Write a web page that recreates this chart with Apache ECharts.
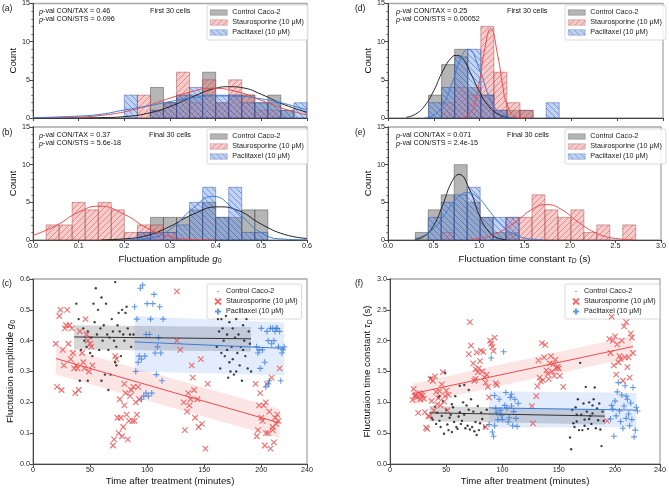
<!DOCTYPE html>
<html>
<head>
<meta charset="utf-8">
<script src="https://cdn.jsdelivr.net/npm/echarts@6/dist/echarts.min.js"></script>
<style>
  html, body { margin: 0; padding: 0; background: #fff; }
  #main { width: 669px; height: 489px; }
</style>
</head>
<body>
<div id="main"></div>
<script>
// ---------- histogram bins ----------
const ampBinStart = 0, ampBinWidth = 0.6 / 21;
const tauBinStart = 0.3, tauBinWidth = 0.1425;

// (a) first 30 cells, amplitude g0 (counts per bin, bin 0 starts at 0.0)
const ampFirstCon = [0,0,0,0,0,0,0, 0,0,4,2,3,3,6,2,3,3,2,3,1,0];
const ampFirstSts = [0,0,0,0,0,0,0, 0,3,1,2,6,2,5,2,5,3,1,1,0,0];
const ampFirstTax = [0,0,0,0,0,0,0, 3,0,1,2,3,4,3,3,3,2,2,2,1,2];
// (b) final 30 cells
const ampFinalCon = [0,0,0,0,0,0,0,0,1,3,3,3,4,5,3,3,4,4,0,0,0];
const ampFinalSts = [0,2,2,5,4,5,4,1,2,2,1,0,0,0,0,0,0,0,0,0,0];
const ampFinalTax = [0,0,0,0,0,0,0,0,1,1,1,2,5,7,3,7,1,1,0,0,0];
// (d) first 30 cells, tau_D (bin 0 starts at 0.3)
const tauFirstCon = [0,3,7,9,4,3,1,1,1,0,0,0,0,0,0,0,0,0];
const tauFirstSts = [0,0,2,4,3,12,6,2,1,0,0,0,0,0,0,0,0,0];
const tauFirstTax = [0,2,4,8,9,3,1,0,0,0,2,0,0,0,0,0,0,0];
// (e) final 30 cells
const tauFinalCon = [1,4,6,10,5,3,1,1,0,0,0,0,0,0,0,0,0,0];
const tauFinalSts = [0,0,1,0,0,0,0,3,3,6,4,3,4,1,2,0,2,0];
const tauFinalTax = [0,3,5,6,7,3,3,3,0,0,0,0,0,0,0,0,0,0];

// ---------- fitted normal curves ----------
const ampFirstConFit = [[0,0],[0.1,0.01],[0.15,0.05],[0.2,0.18],[0.25,0.6],[0.3,1.5],[0.35,2.8],[0.4,3.9],[0.43,4.1],[0.46,3.95],[0.5,3.1],[0.55,1.75],[0.6,0.75]];
const ampFirstStsFit = [[0,0.05],[0.1,0.12],[0.15,0.35],[0.2,0.8],[0.25,1.6],[0.3,2.6],[0.35,3.5],[0.39,3.9],[0.45,3.4],[0.5,2.3],[0.55,1.2],[0.6,0.4]];
const ampFirstTaxFit = [[0,0.04],[0.1,0.25],[0.15,0.5],[0.2,1.05],[0.25,1.55],[0.3,2.15],[0.35,2.65],[0.4,2.9],[0.45,2.85],[0.5,2.5],[0.55,1.9],[0.6,1.05]];
const ampFinalConFit = [[0.15,0.02],[0.2,0.15],[0.25,0.6],[0.3,1.8],[0.35,3.4],[0.405,4.4],[0.45,3.9],[0.5,2.1],[0.55,0.75],[0.6,0.2]];
const ampFinalStsFit = [[0,0.6],[0.05,1.9],[0.1,3.7],[0.145,4.5],[0.2,3.4],[0.25,1.57],[0.3,0.45],[0.35,0.08],[0.4,0]];
const ampFinalTaxFit = [[0.2,0.01],[0.25,0.2],[0.3,1.4],[0.35,4.2],[0.394,5.8],[0.44,4.1],[0.5,0.95],[0.55,0.11],[0.6,0.01]];
const tauFirstConFit = [[0.2,0.1],[0.3,0.5],[0.4,1.6],[0.5,3.6],[0.6,6.2],[0.7,8.0],[0.745,8.2],[0.8,8.0],[0.9,5.9],[1.0,3.4],[1.1,1.5],[1.2,0.5],[1.3,0.1],[1.4,0]];
const tauFirstStsFit = [[0.8,0.03],[0.9,0.65],[0.95,2.1],[1.0,4.9],[1.05,8.7],[1.12,11.7],[1.2,8.0],[1.25,4.3],[1.3,1.7],[1.4,0.1],[1.5,0]];
const tauFirstTaxFit = [[0.4,0.06],[0.5,0.4],[0.6,1.7],[0.7,4.6],[0.8,8.0],[0.873,9.0],[1.0,6.3],[1.1,2.9],[1.2,0.85],[1.3,0.15],[1.4,0]];
const tauFinalConFit = [[0.3,0.1],[0.4,0.5],[0.5,1.9],[0.6,4.6],[0.7,7.7],[0.78,8.7],[0.9,6.6],[1.0,3.4],[1.1,1.2],[1.2,0.28],[1.3,0.05]];
const tauFinalStsFit = [[0.9,0.09],[1.0,0.2],[1.2,0.9],[1.4,2.4],[1.6,4.2],[1.745,4.7],[1.9,4.1],[2.1,2.3],[2.3,0.85],[2.5,0.2],[2.7,0.03]];
const tauFinalTaxFit = [[0.3,0.2],[0.4,0.64],[0.5,1.5],[0.6,3.0],[0.7,4.7],[0.8,6.0],[0.87,6.3],[1.0,5.5],[1.1,4.1],[1.2,2.6],[1.3,1.45],[1.4,0.67],[1.5,0.26],[1.6,0.09],[1.7,0.03]];

// ---------- scatter: amplitude g0 vs time (minutes) ----------
const conAmp = [[38,0.52],[40,0.47],[42,0.37],[44,0.44],[45,0.40],[47,0.38],[48,0.43],[50,0.36],[51,0.41],[53,0.52],[54,0.46],[55,0.57],[56,0.42],[57,0.50],[58,0.37],[59,0.44],[60,0.54],[61,0.40],[62,0.45],[63,0.29],[64,0.52],[65,0.42],[66,0.37],[67,0.41],[68,0.29],[69,0.47],[70,0.43],[71,0.40],[72,0.59],[72,0.33],[73,0.38],[74,0.45],[75,0.49],[76,0.43],[77,0.35],[78,0.50],[79,0.42],[80,0.40],[81,0.49],[82,0.51],[83,0.44],[85,0.42],[86,0.38],[88,0.42],[41,0.27],[48,0.27],[60,0.27],[66,0.24],[73,0.32],[52,0.35],
  [161,0.38],[162,0.47],[163,0.43],[164,0.31],[165,0.36],[166,0.44],[167,0.40],[168,0.35],[169,0.48],[170,0.42],[171,0.28],[172,0.46],[172,0.33],[173,0.30],[174,0.38],[175,0.44],[176,0.29],[177,0.41],[178,0.47],[179,0.36],[180,0.42],[181,0.32],[182,0.38],[183,0.27],[184,0.45],[185,0.40],[186,0.35],[187,0.47],[188,0.31],[189,0.43],[190,0.39],[191,0.30],[165,0.47],[178,0.30],[170,0.37],[184,0.37],[175,0.34]];
const stsAmp = [[20,0.39],[21,0.25],[23,0.48],[24,0.50],[25,0.24],[26,0.37],[27,0.32],[28,0.44],[29,0.45],[30,0.50],[31,0.39],[32,0.45],[33,0.34],[34,0.44],[35,0.36],[36,0.31],[37,0.23],[38,0.32],[39,0.31],[40,0.24],[41,0.43],[43,0.36],[44,0.33],[45,0.31],[46,0.47],[47,0.42],[48,0.40],[49,0.30],[50,0.39],[51,0.38],[52,0.32],
  [70,0.06],[71,0.08],[72,0.35],[73,0.34],[74,0.15],[75,0.10],[76,0.21],[77,0.15],[78,0.09],[79,0.12],[80,0.19],[80,0.26],[81,0.23],[82,0.16],[83,0.08],[84,0.14],[85,0.22],[86,0.24],[87,0.14],[88,0.25],[89,0.14],[90,0.20],[91,0.16],[92,0.25],[93,0.21],[126,0.56],[126,0.40],[129,0.37],
  [132,0.20],[133,0.11],[135,0.17],[136,0.23],[137,0.19],[138,0.21],[139,0.32],[140,0.28],[141,0.24],[142,0.15],[144,0.21],[145,0.12],[147,0.34],[148,0.13],[151,0.05],[153,0.26],
  [195,0.26],[196,0.09],[197,0.11],[198,0.19],[199,0.23],[200,0.15],[201,0.14],[202,0.19],[203,0.06],[204,0.20],[205,0.26],[206,0.10],[207,0.17],[208,0.05],[209,0.28],[210,0.12],[211,0.07],[212,0.15],[213,0.13],[214,0.16],[215,0.14],[216,0.31],[204,0.10],[210,0.11]];
const taxAmp = [[89,0.51],[90,0.30],[91,0.47],[92,0.33],[93,0.35],[94,0.57],[95,0.34],[96,0.58],[97,0.22],[98,0.35],[99,0.42],[100,0.52],[102,0.42],[103,0.47],[104,0.23],[105,0.52],[106,0.55],[107,0.36],[108,0.29],[109,0.38],[110,0.41],[111,0.51],[112,0.36],[113,0.27],[114,0.47],[95,0.21],[99,0.23],[101,0.22],
  [196,0.38],[197,0.36],[199,0.31],[200,0.44],[201,0.37],[203,0.33],[204,0.25],[205,0.43],[206,0.40],[207,0.27],[208,0.44],[209,0.39],[210,0.44],[211,0.40],[212,0.43],[213,0.44],[214,0.44],[215,0.38],[216,0.43],[217,0.27],[218,0.36],[219,0.37],[220,0.38],[206,0.26],[198,0.37]];

// regression lines and confidence bands [t, low, high]
const conAmpFit = [[36,0.412],[191,0.406]];
const conAmpBand = [[36,0.371,0.450],[191,0.365,0.444]];
const taxAmpFit = [[89,0.396],[220,0.375]];
const taxAmpBand = [[89,0.300,0.479],[220,0.288,0.459]];
const stsAmpFit = [[20,0.342],[216,0.133]];
const stsAmpBand = [[20,0.290,0.384],[216,0.084,0.178]];

// ---------- scatter: tau_D vs time ----------
const conTau = [[36,1.40],[37,0.75],[38,0.72],[40,0.93],[41,0.65],[42,0.83],[43,1.08],[44,0.70],[45,0.60],[46,0.78],[47,1.02],[48,0.49],[49,1.48],[50,0.88],[51,0.64],[52,0.55],[53,0.75],[54,0.80],[55,0.52],[56,0.92],[57,0.68],[58,1.10],[59,0.60],[60,0.57],[61,0.77],[62,0.84],[63,0.65],[64,0.70],[65,1.00],[66,0.80],[67,0.58],[68,0.95],[69,0.62],[70,0.88],[71,0.56],[72,1.05],[73,0.60],[74,0.85],[75,0.53],[76,0.68],[77,0.47],[78,0.94],[79,0.55],[80,0.66],[81,0.83],[82,0.73],[84,0.60],[86,0.88],[62,1.27],[70,1.20],[55,0.97],[66,1.28],[44,1.10],
  [160,0.43],[161,0.24],[162,0.88],[163,0.66],[164,0.60],[165,0.92],[166,0.69],[167,1.05],[168,0.55],[169,1.64],[170,0.80],[171,0.55],[172,0.98],[173,0.72],[174,1.25],[175,0.85],[176,0.57],[177,1.00],[178,0.78],[179,0.65],[180,0.82],[181,1.05],[182,1.24],[183,0.58],[184,0.90],[185,0.71],[186,0.98],[187,0.56],[188,0.29],[189,0.85],[190,0.70],[173,0.62],[177,0.73],[166,0.80],[180,0.95]];
const stsTau = [[20,1.04],[21,1.22],[22,1.10],[23,1.12],[24,1.08],[25,0.83],[26,1.15],[27,1.05],[28,1.13],[29,1.11],[30,1.06],[31,0.84],[32,0.59],[33,0.57],[34,0.78],[35,0.77],[36,1.38],[37,1.02],[38,1.35],[39,0.87],[40,1.42],[41,1.17],[42,0.97],[43,1.07],[44,1.18],[45,0.95],[46,1.29],[47,1.49],[48,1.01],[49,1.10],[50,1.19],[51,0.87],[52,1.12],
  [70,1.78],[71,2.30],[72,1.92],[74,1.63],[75,1.35],[76,1.54],[77,1.81],[78,1.49],[79,1.55],[80,1.67],[81,1.84],[82,1.50],[83,1.82],[84,1.40],[85,1.32],[86,1.45],[87,1.25],[88,1.08],[89,2.00],[90,1.95],[91,1.90],[92,1.83],[93,2.05],[94,1.31],[95,1.28],[85,0.60],[76,1.38],
  [126,0.94],[127,0.66],[130,1.10],[131,1.26],[132,1.68],[133,1.40],[134,1.34],[135,1.96],[136,1.36],[137,1.73],[138,1.93],[139,1.52],[140,1.46],[141,1.38],[142,1.63],[143,1.75],[144,1.50],[145,1.62],[146,1.43],[147,1.69],[148,1.55],[149,1.58],[150,1.55],[151,1.43],[154,1.25],
  [193,0.70],[195,2.03],[196,1.80],[197,2.39],[198,2.00],[199,1.60],[200,2.07],[201,1.45],[202,1.94],[203,1.65],[204,1.75],[205,1.70],[206,2.00],[207,1.35],[208,2.23],[209,1.73],[210,2.30],[211,1.57],[212,1.73],[213,1.40],[214,2.12],[215,2.05],[216,1.80]];
const taxTau = [[90,1.72],[91,0.52],[92,0.45],[93,1.11],[94,0.90],[95,0.83],[96,0.72],[97,1.05],[98,0.87],[99,0.79],[100,0.72],[101,1.82],[102,0.95],[103,1.16],[104,0.91],[105,0.68],[106,0.75],[107,1.08],[108,0.94],[109,0.62],[110,0.85],[111,1.05],[112,0.74],[113,0.61],[114,0.98],[88,0.64],[93,0.62],[108,1.13],
  [196,0.73],[197,0.95],[198,0.89],[199,0.45],[200,1.02],[201,0.78],[202,1.17],[203,1.32],[204,0.86],[205,0.69],[206,1.12],[207,0.58],[208,0.94],[209,1.27],[210,0.74],[211,1.05],[212,0.81],[213,0.62],[214,0.99],[215,0.72],[216,1.24],[217,0.44],[218,0.55],[219,0.92],[220,0.86],[210,1.10]];

const conTauFit = [[35,0.83],[191,0.776]];
const conTauBand = [[35,0.695,0.939],[191,0.640,0.884]];
const taxTauFit = [[88,0.91],[219,0.874]];
const taxTauBand = [[88,0.586,1.180],[219,0.597,1.156]];
const stsTauFit = [[20,1.14],[216,1.905]];
const stsTauBand = [[20,0.96,1.30],[216,1.73,2.08]];

const NAMES = ['Control Caco-2', 'Staurosporine (10 μM)', 'Paclitaxel (10 μM)'];

// ---------- styling ----------
const FONT = 'Liberation Sans, Arial, sans-serif';
const C_BLACK = '#222', C_RED = '#ee4b4b', C_BLUE = '#3b7ddd';

function hatch(bg, line, dir) {
  const s = 6, c = document.createElement('canvas');
  c.width = c.height = s;
  const g = c.getContext('2d');
  g.fillStyle = bg; g.fillRect(0, 0, s, s);
  g.strokeStyle = line; g.lineWidth = 0.8; g.beginPath();
  if (dir > 0) {
    g.moveTo(0, s); g.lineTo(s, 0);
    g.moveTo(-1, 1); g.lineTo(1, -1);
    g.moveTo(s - 1, s + 1); g.lineTo(s + 1, s - 1);
  } else {
    g.moveTo(0, 0); g.lineTo(s, s);
    g.moveTo(s - 1, -1); g.lineTo(s + 1, 1);
    g.moveTo(-1, s - 1); g.lineTo(1, s + 1);
  }
  g.stroke();
  return { image: c, repeat: 'repeat' };
}
const FILL_CON = 'rgba(120,120,120,0.55)';
const FILL_STS = hatch('rgba(240,128,128,0.42)', 'rgba(150,60,60,0.5)', 1);
const FILL_TAX = hatch('rgba(100,149,237,0.42)', 'rgba(40,60,120,0.5)', -1);
const EDGE_CON = 'rgba(60,60,60,0.55)', EDGE_STS = 'rgba(150,60,60,0.55)', EDGE_TAX = 'rgba(40,70,150,0.55)';

const grids = [
  { left: 33, top: 3, width: 274, height: 115 },    // a
  { left: 33, top: 127, width: 274, height: 113 },  // b
  { left: 33, top: 279, width: 274, height: 185 },  // c
  { left: 388, top: 3, width: 275, height: 115 },   // d
  { left: 388, top: 127, width: 275, height: 113 }, // e
  { left: 390, top: 279, width: 273, height: 185 }  // f
].map(g => Object.assign({ show: true, borderColor: '#a8a8a8', borderWidth: 1.3, backgroundColor: 'transparent' }, g));

const tick = { fontSize: 7.2, color: '#222', fontFamily: FONT };
const nameRich = {
  t: { fontSize: 9.6, fontFamily: FONT, color: '#111' },
  i: { fontSize: 9.6, fontFamily: FONT, fontStyle: 'italic', color: '#111' },
  s: { fontSize: 7, fontFamily: FONT, fontStyle: 'italic', color: '#111', padding: [5, 0, 0, 0] },
  n: { fontSize: 7, fontFamily: FONT, color: '#111', padding: [5, 0, 0, 0] }
};

function xAxis(gi, max, interval, showLabel, name, gap) {
  return {
    type: 'value', gridIndex: gi, min: 0, max, interval,
    axisLine: { show: true, lineStyle: { color: '#444', width: 1 } },
    axisTick: { show: true, length: 3, lineStyle: { color: '#444' } },
    splitLine: { show: false },
    axisLabel: { show: showLabel, margin: 3, ...tick, formatter: v => interval < 1 ? v.toFixed(1) : String(v) },
    name: name || '', nameLocation: 'middle', nameGap: gap || 14,
    nameTextStyle: { rich: nameRich }
  };
}
function yAxis(gi, max, interval, fmt, name, gap, minor) {
  return {
    type: 'value', gridIndex: gi, min: 0, max, interval,
    axisLine: { show: true, lineStyle: { color: '#444', width: 1 } },
    axisTick: { show: true, length: 3, lineStyle: { color: '#444' } },
    minorTick: { show: !!minor, splitNumber: 5, length: 1.6, lineStyle: { color: '#666' } },
    splitLine: { show: false },
    axisLabel: { margin: 3, ...tick, formatter: fmt },
    name, nameLocation: 'middle', nameGap: gap, nameRotate: 90,
    nameTextStyle: { rich: nameRich }
  };
}

const ampName = '{t|Fluctuation amplitude }{i|g}{n|0}';
const tauName = '{t|Fluctuation time constant }{i|τ}{s|D}{t| (s)}';
const intFmt = v => String(v);
const f1 = v => v.toFixed(1);

const xAxes = [
  xAxis(0, 0.6, 0.1, false),
  xAxis(1, 0.6, 0.1, true, ampName, 13),
  xAxis(2, 240, 50, true, '{t|Time after treatment (minutes)}', 12),
  xAxis(3, 3.0, 0.5, false),
  xAxis(4, 3.0, 0.5, true, tauName, 13),
  xAxis(5, 240, 50, true, '{t|Time after treatment (minutes)}', 12)
];
const yAxes = [
  yAxis(0, 15, 5, intFmt, '{t|Count}', 14, true),
  yAxis(1, 15, 5, intFmt, '{t|Count}', 14, true),
  yAxis(2, 0.6, 0.1, f1, '{t|Fluctutaion amplitude }{i|g}{n|0}', 14),
  yAxis(3, 15, 5, intFmt, '{t|Count}', 14, true),
  yAxis(4, 15, 5, intFmt, '{t|Count}', 14, true),
  yAxis(5, 3.0, 0.5, f1, '{t|Fluctutaion time constant }{i|τ}{s|D}{t| (s)}', 16)
];

// ---------- series builders ----------
function histRows(counts, start, width) {
  const rows = [];
  counts.forEach((c, k) => { if (c > 0) rows.push([start + k * width, start + (k + 1) * width, c]); });
  return rows;
}
function histSeries(gi, name, counts, start, width, fill, edge) {
  return {
    type: 'custom', name, xAxisIndex: gi, yAxisIndex: gi,
    data: histRows(counts, start, width),
    encode: { x: [0, 1], y: 2 },
    itemStyle: { color: fill, borderColor: edge, borderWidth: 0.6 },
    renderItem: (params, api) => {
      const p0 = api.coord([api.value(0), 0]);
      const p1 = api.coord([api.value(1), api.value(2)]);
      return {
        type: 'rect',
        shape: { x: p0[0], y: p1[1], width: p1[0] - p0[0], height: p0[1] - p1[1] },
        style: { fill, stroke: edge, lineWidth: 0.8 }
      };
    },
    silent: true, z: 2
  };
}
function curve(gi, data, color) {
  return {
    type: 'line', xAxisIndex: gi, yAxisIndex: gi, data, smooth: 0.5, symbol: 'none',
    lineStyle: { color, width: 1 }, silent: true, z: 5
  };
}
function band(gi, data, color) {
  return {
    type: 'custom', xAxisIndex: gi, yAxisIndex: gi, data, encode: { x: 0, y: [1, 2] },
    renderItem: (params, api) => {
      if (params.dataIndex !== 0) return null;
      const n = data.length, up = [], lo = [];
      for (let i = 0; i < n; i++) {
        up.push(api.coord([api.value(0, i), api.value(2, i)]));
        lo.unshift(api.coord([api.value(0, i), api.value(1, i)]));
      }
      return { type: 'polygon', shape: { points: up.concat(lo) }, style: { fill: color } };
    },
    silent: true, z: 1
  };
}
function fitLine(gi, data, color) {
  return {
    type: 'line', xAxisIndex: gi, yAxisIndex: gi, data, symbol: 'none',
    lineStyle: { color, width: 1 }, silent: true, z: 6
  };
}
const X_PATH = 'path://M0,0L10,10M10,0L0,10';
const P_PATH = 'path://M5,0L5,10M0,5L10,5';
// small dot centred in a 10x10 box, used for the legend icon of the control points
const DOT_ICON = 'path://M0,0L0.01,0M10,10L10.01,10M4.2,4.2L5.8,4.2L5.8,5.8L4.2,5.8Z';
function scatter(gi, name, data, kind) {
  const s = { type: 'scatter', name: name + ' ', xAxisIndex: gi, yAxisIndex: gi, data, silent: true, z: 4 };
  if (kind === 'con') {
    s.symbol = 'circle'; s.symbolSize = 2.4; s.itemStyle = { color: '#111' };
  } else if (kind === 'sts') {
    s.symbol = X_PATH; s.symbolSize = 5.5;
    s.itemStyle = { color: 'transparent', borderColor: C_RED, borderWidth: 1.1 };
  } else {
    s.symbol = P_PATH; s.symbolSize = 6;
    s.itemStyle = { color: 'transparent', borderColor: C_BLUE, borderWidth: 1.1 };
  }
  return s;
}

const series = [];
function histPanel(gi, con, sts, tax, start, width, fits) {
  series.push(histSeries(gi, NAMES[0], con, start, width, FILL_CON, EDGE_CON));
  series.push(histSeries(gi, NAMES[1], sts, start, width, FILL_STS, EDGE_STS));
  series.push(histSeries(gi, NAMES[2], tax, start, width, FILL_TAX, EDGE_TAX));
  series.push(curve(gi, fits[0], C_BLACK), curve(gi, fits[1], C_RED), curve(gi, fits[2], C_BLUE));
}
histPanel(0, ampFirstCon, ampFirstSts, ampFirstTax, ampBinStart, ampBinWidth, [ampFirstConFit, ampFirstStsFit, ampFirstTaxFit]);
histPanel(1, ampFinalCon, ampFinalSts, ampFinalTax, ampBinStart, ampBinWidth, [ampFinalConFit, ampFinalStsFit, ampFinalTaxFit]);
histPanel(3, tauFirstCon, tauFirstSts, tauFirstTax, tauBinStart, tauBinWidth, [tauFirstConFit, tauFirstStsFit, tauFirstTaxFit]);
histPanel(4, tauFinalCon, tauFinalSts, tauFinalTax, tauBinStart, tauBinWidth, [tauFinalConFit, tauFinalStsFit, tauFinalTaxFit]);

function scatterPanel(gi, con, sts, tax, bands, fits) {
  series.push(band(gi, bands[0], 'rgba(0,0,0,0.16)'));
  series.push(band(gi, bands[1], 'rgba(240,110,110,0.18)'));
  series.push(band(gi, bands[2], 'rgba(90,140,235,0.17)'));
  series.push(scatter(gi, NAMES[0], con, 'con'));
  series.push(scatter(gi, NAMES[1], sts, 'sts'));
  series.push(scatter(gi, NAMES[2], tax, 'tax'));
  series.push(fitLine(gi, fits[0], '#333'), fitLine(gi, fits[1], C_RED), fitLine(gi, fits[2], C_BLUE));
}
scatterPanel(2, conAmp, stsAmp, taxAmp, [conAmpBand, stsAmpBand, taxAmpBand], [conAmpFit, stsAmpFit, taxAmpFit]);
scatterPanel(5, conTau, stsTau, taxTau, [conTauBand, stsTauBand, taxTauBand], [conTauFit, stsTauFit, taxTauFit]);

// ---------- legends ----------
const legendBase = {
  orient: 'vertical', formatter: n => n.trim(), selectedMode: false,
  backgroundColor: 'rgba(255,255,255,0.85)', borderColor: '#d0d0d0', borderWidth: 0.8, borderRadius: 2,
  textStyle: { fontSize: 7.2, fontFamily: FONT, color: '#222', lineHeight: 9 }
};
function histLegend(left, top) {
  return Object.assign({}, legendBase, {
    left, top, data: NAMES, icon: 'rect',
    itemWidth: 17, itemHeight: 5.5, itemGap: 1, itemTextGap: 3,
    padding: [3, 4, 3, 3], itemStyle: { borderWidth: 0.5 }
  });
}
function scatterLegend(left, top) {
  return Object.assign({}, legendBase, {
    left, top,
    data: [
      { name: NAMES[0] + ' ', icon: DOT_ICON },
      { name: NAMES[1] + ' ' },
      { name: NAMES[2] + ' ' }
    ],
    itemWidth: 6, itemHeight: 6, itemGap: 1, itemTextGap: 10,
    padding: [3, 4, 3, 7]
  });
}
const legends = [
  histLegend(207, 5), histLegend(207, 129),
  histLegend(565, 5), histLegend(565, 129),
  scatterLegend(207, 284), scatterLegend(565, 284)
];

// ---------- annotations ----------
const txt = (x, y, text, extra) => ({
  type: 'text', left: x, top: y,
  style: Object.assign({ text, fontSize: 7.2, fontFamily: FONT, fill: '#111',
    rich: { i: { fontStyle: 'italic', fontSize: 7.2, fontFamily: FONT, fill: '#111' } } }, extra || {}),
  z: 10
});
const graphic = [
  txt(2, 4, '(a)', { fontSize: 8.5 }), txt(2, 128, '(b)', { fontSize: 8.5 }), txt(2, 279, '(c)', { fontSize: 8.5 }),
  txt(355, 4, '(d)', { fontSize: 8.5 }), txt(355, 128, '(e)', { fontSize: 8.5 }), txt(355, 279, '(f)', { fontSize: 8.5 }),
  txt(39, 8, '{i|p}-val CON/TAX = 0.46'), txt(39, 16, '{i|p}-val CON/STS = 0.096'), txt(150, 8, 'First 30 cells'),
  txt(39, 132, '{i|p}-val CON/TAX = 0.37'), txt(39, 140, '{i|p}-val CON/STS = 5.6e-18'), txt(149, 132, 'Final 30 cells'),
  txt(396, 8, '{i|p}-val CON/TAX = 0.25'), txt(396, 16, '{i|p}-val CON/STS = 0.00052'), txt(507, 8, 'First 30 cells'),
  txt(396, 132, '{i|p}-val CON/TAX = 0.071'), txt(396, 140, '{i|p}-val CON/STS = 2.4e-15'), txt(507, 132, 'Final 30 cells')
];

const chart = echarts.init(document.getElementById('main'), null, { renderer: 'canvas' });
chart.setOption({
  animation: false,
  backgroundColor: '#fff',
  textStyle: { fontFamily: FONT },
  grid: grids,
  xAxis: xAxes,
  yAxis: yAxes,
  legend: legends,
  graphic,
  series
});
</script>
</body>
</html>
